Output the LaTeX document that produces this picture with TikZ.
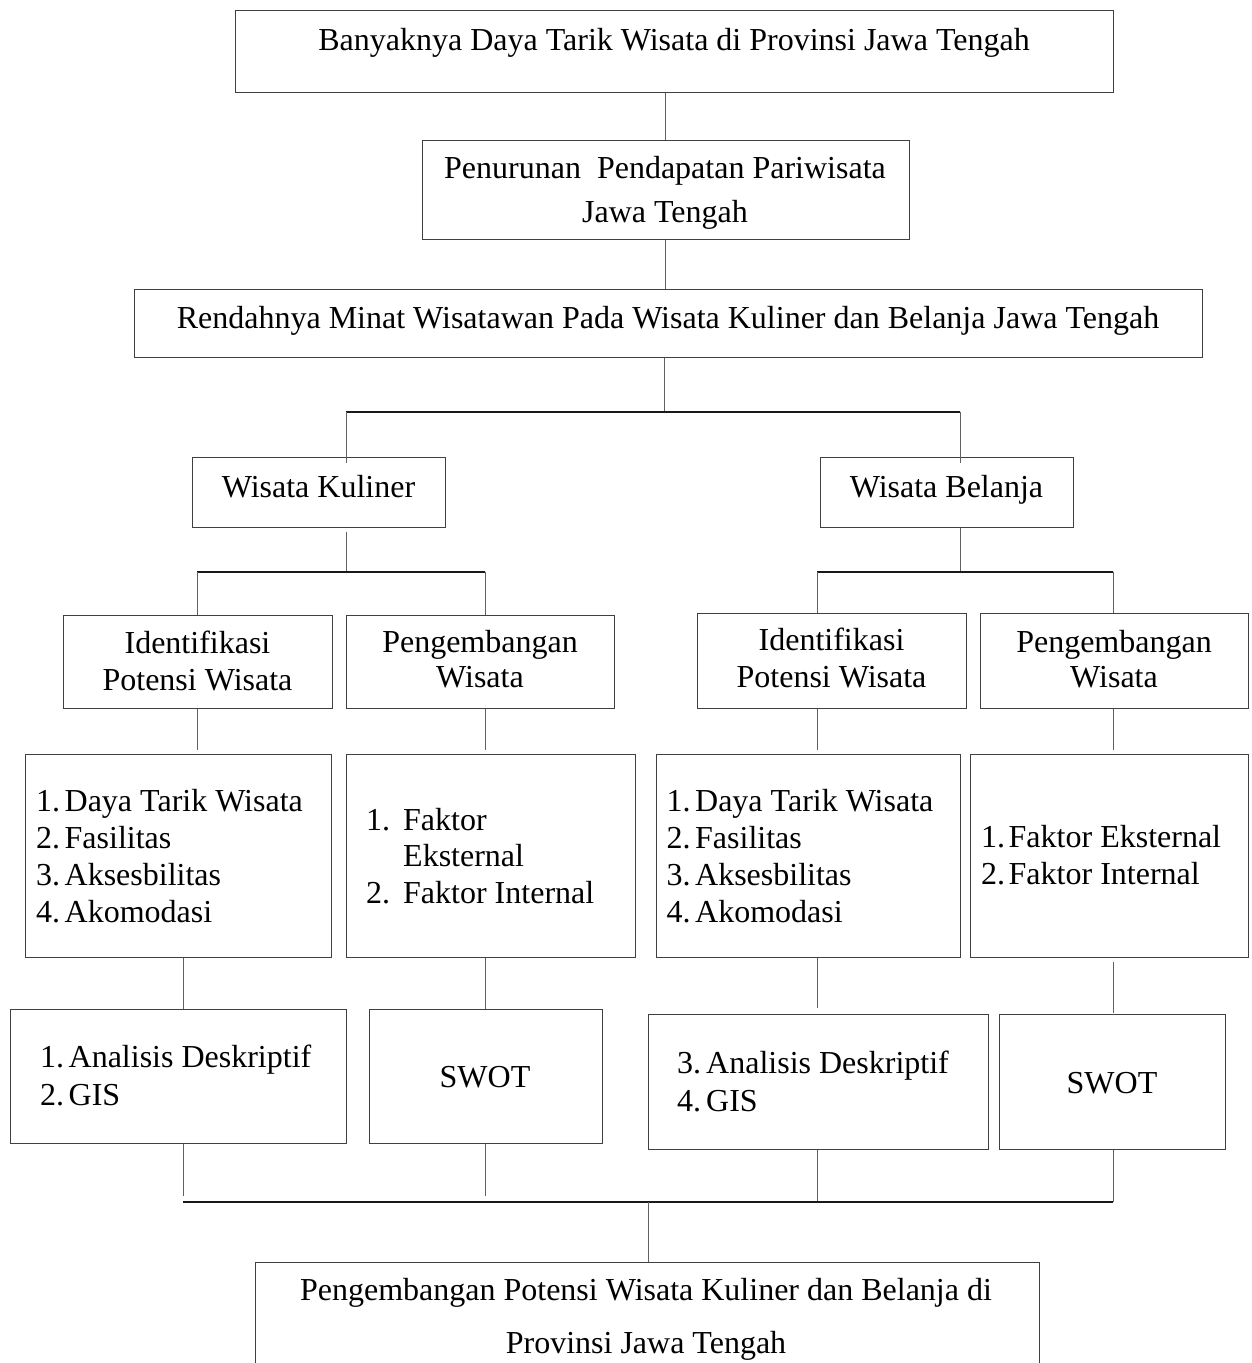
\documentclass[tikz,border=0pt]{standalone}
\usepackage{fontspec}
\setmainfont{Liberation Serif}
\usetikzlibrary{fit}
\newcommand{\twol}[1]{\begin{tabular}[t]{@{}c@{}}#1\end{tabular}}
\newcommand{\lst}[1]{\begin{tabular}[t]{@{}l@{}}#1\end{tabular}}
\newcommand{\nm}[2]{\makebox[#1][l]{#2}}
\begin{document}
\begin{tikzpicture}[x=1pt,y=-1pt,
  box/.style={draw=black!75, line width=1pt, inner sep=0pt},
  conn/.style={draw=black!62, line width=1pt},
  bar/.style={draw=black!90, line width=2pt},
  txt/.style={inner sep=0pt, text=black},
]
\useasboundingbox (0,0) rectangle (1251,1363);
% ---------- boxes ----------
\node[box, fit={(235,10) (1113,92)}] (b1) {};
\node[box, fit={(422,140) (909,239)}] (b2) {};
\node[box, fit={(134,289) (1202,357)}] (b3) {};
\node[box, fit={(192,457) (445,527)}] (wk) {};
\node[box, fit={(820,457) (1073,527)}] (wb) {};
\node[box, fit={(63,615) (332,708)}] (i1) {};
\node[box, fit={(346,615) (614,708)}] (p1) {};
\node[box, fit={(697,613) (966,708)}] (i2) {};
\node[box, fit={(980,613) (1248,708)}] (p2) {};
\node[box, fit={(25,754) (331,957)}] (d1) {};
\node[box, fit={(346,754) (635,957)}] (f1) {};
\node[box, fit={(656,754) (960,957)}] (d2) {};
\node[box, fit={(970,754) (1248,957)}] (f2) {};
\node[box, fit={(10,1009) (346,1143)}] (a1) {};
\node[box, fit={(369,1009) (602,1143)}] (s1) {};
\node[box, fit={(648,1014) (988,1149)}] (a2) {};
\node[box, fit={(999,1014) (1225,1149)}] (s2) {};
\node[box, fit={(255.5,1262) (1039,1400)}] (b9) {};
% ---------- texts ----------
\node[txt, anchor=base, font=\fontsize{32}{37}\selectfont] (t1) at (674,50) {Banyaknya Daya Tarik Wisata di Provinsi Jawa Tengah};
\node[txt, anchor=base, font=\fontsize{32}{44}\selectfont] (t2) at (665,178) {\twol{Penurunan\ \ Pendapatan Pariwisata\\Jawa Tengah}};
\node[txt, anchor=base, font=\fontsize{32}{37}\selectfont] (t3) at (668,328) {Rendahnya Minat Wisatawan Pada Wisata Kuliner dan Belanja Jawa Tengah};
\node[txt, anchor=base, font=\fontsize{32}{37}\selectfont] (t4) at (318.5,497) {Wisata Kuliner};
\node[txt, anchor=base, font=\fontsize{32}{37}\selectfont] (t5) at (946.5,497) {Wisata Belanja};
\node[txt, anchor=base, font=\fontsize{32}{37}\selectfont] (t6) at (197.5,653) {\twol{Identifikasi\\Potensi Wisata}};
\node[txt, anchor=base, font=\fontsize{32}{35}\selectfont] (t7) at (480,652) {\twol{Pengembangan\\Wisata}};
\node[txt, anchor=base, font=\fontsize{32}{37}\selectfont] (t8) at (831.5,650) {\twol{Identifikasi\\Potensi Wisata}};
\node[txt, anchor=base, font=\fontsize{32}{35}\selectfont] (t9) at (1114,652) {\twol{Pengembangan\\Wisata}};
\node[txt, anchor=base west, font=\fontsize{32}{37}\selectfont] (t10) at (36,811) {\lst{\nm{28.5pt}{1.}Daya Tarik Wisata\\\nm{28.5pt}{2.}Fasilitas\\\nm{28.5pt}{3.}Aksesbilitas\\\nm{28.5pt}{4.}Akomodasi}};
\node[txt, anchor=base west, font=\fontsize{32}{36.5}\selectfont] (t11) at (366,830) {\lst{\nm{37pt}{1.}Faktor\\\nm{37pt}{}Eksternal\\\nm{37pt}{2.}Faktor Internal}};
\node[txt, anchor=base west, font=\fontsize{32}{37}\selectfont] (t12) at (666.5,811) {\lst{\nm{28.5pt}{1.}Daya Tarik Wisata\\\nm{28.5pt}{2.}Fasilitas\\\nm{28.5pt}{3.}Aksesbilitas\\\nm{28.5pt}{4.}Akomodasi}};
\node[txt, anchor=base west, font=\fontsize{32}{37}\selectfont] (t13) at (981,847) {\lst{\nm{27.5pt}{1.}Faktor Eksternal\\\nm{27.5pt}{2.}Faktor Internal}};
\node[txt, anchor=base west, font=\fontsize{32}{38}\selectfont] (t14) at (40,1067) {\lst{\nm{28.5pt}{1.}Analisis Deskriptif\\\nm{28.5pt}{2.}GIS}};
\node[txt, anchor=base, font=\fontsize{32}{37}\selectfont] (t15) at (485,1087) {SWOT};
\node[txt, anchor=base west, font=\fontsize{32}{38}\selectfont] (t16) at (677,1073) {\lst{\nm{29pt}{3.}Analisis Deskriptif\\\nm{29pt}{4.}GIS}};
\node[txt, anchor=base, font=\fontsize{32}{37}\selectfont] (t17) at (1112,1093) {SWOT};
\node[txt, anchor=base, font=\fontsize{32}{53}\selectfont] (t18) at (646,1300) {\twol{Pengembangan Potensi Wisata Kuliner dan Belanja di\\Provinsi Jawa Tengah}};
% ---------- junction coordinates ----------
\coordinate (j0) at (664,411.5);
\coordinate (bl) at (346,411.5);
\coordinate (br) at (960,411.5);
\coordinate (k1) at (197,572);
\coordinate (k2) at (485,572);
\coordinate (k0) at (346,572);
\coordinate (k3) at (817,572);
\coordinate (k4) at (1113,572);
\coordinate (k5) at (960,572);
\coordinate (v5) at (183,0);
\coordinate (m1) at (183,1202);
\coordinate (m2) at (485,1202);
\coordinate (m3) at (817,1202);
\coordinate (m4) at (1113,1202);
\coordinate (m0) at (648,1202);
% ---------- connectors ----------
\draw[conn] (b2.north |- b1.south) -- (b2.north);
\draw[conn] (b2.south) -- (b2.south |- b3.north);
\draw[conn] (b3.south -| j0) -- (j0);
\draw[bar] (bl) -- (br);
\draw[conn, shorten >=-6pt] (bl) -- (bl |- wk.north);
\draw[conn, shorten >=-6pt] (br) -- (br |- wb.north);
\draw[conn, shorten <=4pt] (wk.south -| k0) -- (k0);
\draw[conn] (wb.south -| k5) -- (k5);
\draw[bar] (k1) -- (k2);
\draw[bar] (k3) -- (k4);
\draw[conn] (k1) -- (k1 |- i1.north);
\draw[conn] (k2) -- (k2 |- p1.north);
\draw[conn] (k3) -- (k3 |- i2.north);
\draw[conn] (k4) -- (k4 |- p2.north);
\draw[conn, shorten >=4pt] (i1.south -| k1) -- (d1.north -| k1);
\draw[conn, shorten >=4pt] (p1.south -| k2) -- (f1.north -| k2);
\draw[conn, shorten >=4pt] (i2.south -| k3) -- (d2.north -| k3);
\draw[conn, shorten >=4pt] (p2.south -| k4) -- (f2.north -| k4);
\draw[conn] (d1.south -| v5) -- (a1.north -| v5);
\draw[conn] (f1.south -| k2) -- (s1.north -| k2);
\draw[conn, shorten >=6pt] (d2.south -| k3) -- (a2.north -| k3);
\draw[conn, shorten <=4pt, shorten >=1pt] (f2.south -| k4) -- (s2.north -| k4);
\draw[conn, shorten >=6pt] (a1.south -| m1) -- (m1);
\draw[conn, shorten >=6pt] (s1.south -| m2) -- (m2);
\draw[conn, shorten >=1pt] (a2.south -| m3) -- (m3);
\draw[conn] (s2.south -| m4) -- (m4);
\draw[bar] (m1) -- (m4);
\draw[conn] (m0) -- (m0 |- b9.north);
\end{tikzpicture}
\end{document}
